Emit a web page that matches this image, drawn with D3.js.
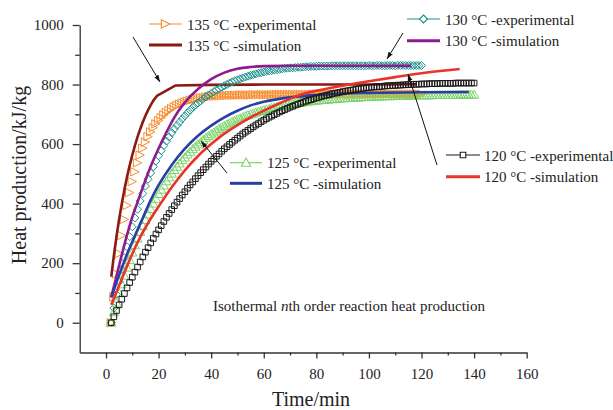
<!DOCTYPE html>
<html><head><meta charset="utf-8">
<script src="https://cdn.jsdelivr.net/npm/d3@7"></script>
<style>
body{margin:0;background:#fff}
svg{display:block}
text{font-family:"Liberation Serif","Times New Roman",serif;fill:#222}
</style>
</head><body>
<svg id="c" width="613" height="410"></svg>
<script>
// ---------- data ----------
const xTicks=[0,20,40,60,80,100,120,140,160];
const xMinor=[10,30,50,70,90,110,130,150];
const yTicks=[0,200,400,600,800,1000];
const yMinor=[100,300,500,700,900];

// experimental series: one value per minute, starting at t = 2 min
const expStart=2;
const exp135=[0,87,164,232,293,347,394,437,474,507,537,563,586,607,625,641,655,668,679,689,698,706,713,719,725,730,734,738,741,744,747,749,751,753,755,756,758,759,760,761,762,
762,763,763,763,764,764,764,764,765,765,765,765,765,766,766,766,766,766,766,766,766,767,767,767,767,767,767,767,767,767,767,767,767,767,767,767,768,768,768,768,
768,768,767,768,768,768,768,768,769,768,768,768,768,768,768,768,769,768,768,768,768,768,768,768,768,769,768,768,768,768,768,768,768,768,768,768,768,768];
const exp130=[0,49,95,138,179,218,255,289,322,352,381,409,434,459,482,503,524,543,561,578,595,610,624,638,651,663,674,685,695,705,714,723,731,738,745,752,759,765,
770,776,781,786,791,796,800,805,809,813,816,819,822,825,828,831,833,836,838,840,842,844,846,847,849,850,851,853,854,855,856,856,857,858,858,859,860,860,861,861,861,862,862,
862,862,862,863,863,863,863,863,863,863,863,863,863,863,863,863,863,864,863,863,864,864,863,863,864,864,864,863,864,864,864,864,864,864,864,864,864,864];
const exp125=[0,35,67,99,129,158,185,211,236,260,283,305,325,345,364,382,400,416,432,447,461,475,488,501,513,524,535,546,555,565,574,583,591,599,606,614,621,627,633,639,
645,651,656,661,666,670,675,679,683,686,690,694,697,700,703,706,709,711,714,716,718,721,723,725,727,728,730,732,733,735,736,738,739,740,742,743,744,745,746,747,748,
748,749,750,751,751,752,753,754,754,755,755,756,756,757,757,758,758,759,759,759,760,760,760,761,761,761,761,762,762,762,762,763,763,763,763,763,764,764,764,764,
764,764,765,765,765,765,765,765,765,765,765,766,766,766,766,766,766,766];
const exp120=[0,20,41,60,79,98,117,135,153,170,187,204,221,237,252,268,283,298,312,326,340,354,367,380,393,405,417,429,440,452,
463,473,484,494,504,514,523,533,542,550,559,567,576,584,591,599,606,613,620,627,634,640,646,652,658,664,669,675,680,685,
690,694,699,703,708,712,716,720,724,727,731,734,737,741,744,747,749,752,755,757,760,762,764,766,769,771,772,774,776,778,
779,781,782,784,785,786,787,789,790,791,792,793,793,794,795,796,796,797,797,798,798,799,799,800,800,801,801,
801,802,802,802,803,803,803,803,804,804,804,804,804,804,805,805,805,805,805,805,805,805];

// simulation series
const sim135T=[2,3,4,5,6,7,8,9,10,11,12,13,14,15,16,17,18,19.5,26.5,40,60,80,100,118];
const sim135V=[155,225,290,348,400,447,490,528,563,595,624,650,674,695,714,731,746,763,797,799,800,800,800,801];
const sim130T=[2,4,6,8,10,12,14,17,20,23,26,30,35,40,45,50,55,60,70,80,100,116];
const sim130V=[85,158,228,295,355,405,455,525,585,640,690,740,785,818,840,853,859,862,863,863,863,863];
const sim125T=[2,5,8,11,14,17,20,25,30,35,40,45,50,55,60,70,80,90,100,120,138];
const sim125V=[85,160,230,292,352,412,462,530,585,628,662,690,712,730,742,757,765,770,772,774,775];
const sim120T=[2,5,8,12,16,20,25,30,35,40,45,50,55,60,65,70,74,80,90,100,110,120,134.5];
const sim120V=[60,125,190,270,335,390,455,512,560,600,635,664,690,712,733,752,766,779,796,811,825,838,852];

const labels=["135 °C -experimental","135 °C -simulation","130 °C -experimental","130 °C -simulation",
              "125 °C -experimental","125 °C -simulation","120 °C -experimental","120 °C -simulation"];
const xTitle="Time/min", yTitle="Heat production/kJ/kg";
const note=["Isothermal ","n","th order reaction heat production"];

// ---------- drawing ----------
const svg=d3.select('#c');
const x=d3.scaleLinear().domain([-10,160]).range([79.7,526.7]);
const y=d3.scaleLinear().domain([-100,1000]).range([352.5,25]);

const SYM={
  triRight:"M-4.2,-4.2L4.2,0L-4.2,4.2Z",
  diamond:"M0,-4L4,0L0,4L-4,0Z",
  triUp:"M0,-4.6L4.6,3.5L-4.6,3.5Z",
  square:"M-2.8,-2.8H2.8V2.8H-2.8Z"
};
const C={o:"#F68B2C",dr:"#8A1A12",teal:"#17918B",pur:"#8E1C8E",g:"#7BD36A",b:"#2A3FA6",k:"#1a1a1a",r:"#E8342A"};

const line=d3.line().x(d=>x(d[0])).y(d=>y(d[1]));
function drawExp(vals,color,sym){
  const pts=vals.map((v,i)=>[expStart+i,v]);
  svg.append('g').selectAll('path').data(pts).join('path')
    .attr('d',SYM[sym]).attr('transform',d=>`translate(${x(d[0])},${y(d[1])})`)
    .attr('fill','none').attr('stroke',color).attr('stroke-width',1);
}
function drawSim(T,V,color,curve){
  const pts=T.map((t,i)=>[t,V[i]]);
  svg.append('path').datum(pts).attr('d',line.curve(curve)(pts))
    .attr('fill','none').attr('stroke',color).attr('stroke-width',2.6).attr('stroke-linejoin','round');
}

// axes
svg.append('g').attr('transform',`translate(0,${y(-100)})`)
  .call(d3.axisBottom(x).tickValues(xTicks).tickFormat(d3.format('d')).tickSize(6).tickPadding(10).tickSizeOuter(0));
svg.append('g').attr('transform',`translate(0,${y(-100)})`)
  .call(d3.axisBottom(x).tickValues(xMinor).tickSize(3).tickFormat('')).select('.domain').remove();
svg.append('g').attr('transform',`translate(${x(-10)},0)`)
  .call(d3.axisLeft(y).tickValues(yTicks).tickFormat(d3.format('d')).tickSize(7).tickPadding(9).tickSizeOuter(0));
svg.append('g').attr('transform',`translate(${x(-10)},0)`)
  .call(d3.axisLeft(y).tickValues(yMinor).tickSize(4.5).tickFormat('')).select('.domain').remove();
svg.selectAll('.domain,.tick line').attr('stroke','#333').attr('stroke-width',1.3);
svg.selectAll('.tick text').attr('font-size',15).attr('font-family','"Liberation Serif",serif').attr('fill','#222');

// series (drawn 135 -> 120)
drawExp(exp135,C.o,'triRight');
drawSim(sim135T,sim135V,C.dr,d3.curveLinear);
drawExp(exp130,C.teal,'diamond');
drawSim(sim130T,sim130V,C.pur,d3.curveMonotoneX);
drawExp(exp125,C.g,'triUp');
drawSim(sim125T,sim125V,C.b,d3.curveMonotoneX);
drawExp(exp120,C.k,'square');
drawSim(sim120T,sim120V,C.r,d3.curveMonotoneX);

// legend entries
const leg=[
 {x1:149,x2:182,y:24,c:C.o,sym:'triRight',tx:187},
 {x1:149,x2:182,y:45,c:C.dr,tx:187},
 {x1:407,x2:440,y:19,c:C.teal,sym:'diamond',tx:445},
 {x1:407,x2:440,y:40.7,c:C.pur,tx:445},
 {x1:230,x2:262,y:162.7,c:C.g,sym:'triUp',tx:267},
 {x1:230,x2:262,y:183.3,c:C.b,tx:267},
 {x1:446,x2:480,y:155,c:C.k,sym:'square',tx:484},
 {x1:446,x2:480,y:176.7,c:C.r,tx:484}
];
leg.forEach((l,i)=>{
  const g=svg.append('g');
  g.append('line').attr('x1',l.x1).attr('x2',l.x2).attr('y1',l.y).attr('y2',l.y)
    .attr('stroke',l.c).attr('stroke-width',l.sym?1.2:3);
  if(l.sym) g.append('path').attr('d',SYM[l.sym]).attr('transform',`translate(${(l.x1+l.x2)/2},${l.y})`)
    .attr('fill','#fff').attr('stroke',l.c).attr('stroke-width',1.1);
  g.append('text').attr('x',l.tx).attr('y',l.y+5.5).attr('font-size',15).text(labels[i]);
});

// arrows
svg.append('defs').append('marker').attr('id','ah').attr('viewBox','0 0 10 10').attr('refX',10).attr('refY',5)
  .attr('markerWidth',7).attr('markerHeight',7).attr('orient','auto')
  .append('path').attr('d','M0,1.5L10,5L0,8.5Z').attr('fill','#111');
[[133,37,160,82],[403,33,387,59],[227,173,201,141],[437,165,408,74]].forEach(a=>{
  svg.append('line').attr('x1',a[0]).attr('y1',a[1]).attr('x2',a[2]).attr('y2',a[3])
    .attr('stroke','#111').attr('stroke-width',1).attr('marker-end','url(#ah)');
});

// titles
svg.append('text').attr('x',311).attr('y',406).attr('text-anchor','middle').attr('font-size',20).text(xTitle);
svg.append('text').attr('transform','translate(26,175) rotate(-90)').attr('text-anchor','middle').attr('font-size',20).text(yTitle);
const nt=svg.append('text').attr('x',213).attr('y',311).attr('font-size',15);
nt.append('tspan').text(note[0]);
nt.append('tspan').attr('font-style','italic').text(note[1]);
nt.append('tspan').text(note[2]);
</script>
</body></html>
